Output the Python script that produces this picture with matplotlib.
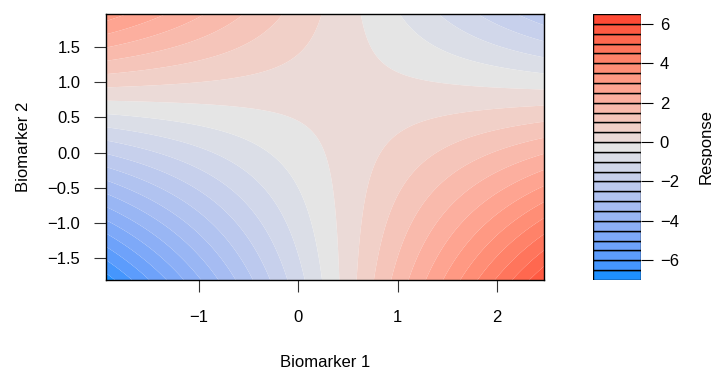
import matplotlib
matplotlib.use("Agg")
import matplotlib.pyplot as plt
import numpy as np

plt.rcParams['font.family'] = ['Liberation Sans', 'DejaVu Sans']
plt.rcParams['axes.unicode_minus'] = True

# biomarker ranges covered by the fitted surface
biomarker1_range = [-1.93, 2.47]
biomarker2_range = [-1.81, 1.97]

# interaction surface: response = value - twist*(x1 - x1_c)*(x2 - x2_c)
saddle_value = 0.19
saddle_x1 = 0.48
saddle_x2 = 0.81
twist = 1.1

levels = np.arange(-7.0, 7.0, 0.5)
x_ticks = [-1, 0, 1, 2]
y_ticks = [-1.5, -1.0, -0.5, 0.0, 0.5, 1.0, 1.5]
cbar_ticks = [-6, -4, -2, 0, 2, 4, 6]

# palette anchors: low, zero, high
anchor_colors = ["#1E90FF", "#E5E5E5", "#FF4A35"]


def hex2rgb(h):
    h = h.lstrip("#")
    return np.array([int(h[i:i + 2], 16) for i in (0, 2, 4)]) / 255.0


M_XYZ = np.array([[0.4124, 0.3576, 0.1805],
                  [0.2126, 0.7152, 0.0722],
                  [0.0193, 0.1192, 0.9505]])
WHITE = np.array([0.95047, 1.0, 1.08883])


def rgb2lab(rgb):
    lin = np.where(rgb <= 0.04045, rgb / 12.92, ((rgb + 0.055) / 1.055) ** 2.4)
    xyz = M_XYZ @ lin / WHITE
    f = np.where(xyz > 0.008856, np.cbrt(xyz), 7.787 * xyz + 16 / 116)
    return np.array([116 * f[1] - 16, 500 * (f[0] - f[1]), 200 * (f[1] - f[2])])


def lab2rgb(lab):
    fy = (lab[0] + 16) / 116
    f = np.array([fy + lab[1] / 500, fy, fy - lab[2] / 200])
    xyz = np.where(f ** 3 > 0.008856, f ** 3, (f - 16 / 116) / 7.787) * WHITE
    lin = np.linalg.solve(M_XYZ, xyz)
    lin = np.clip(lin, 0, 1)
    rgb = np.where(lin <= 0.0031308, 12.92 * lin,
                   1.055 * lin ** (1 / 2.4) - 0.055)
    return np.clip(rgb, 0, 1)


def ramp_lab(colors, n):
    labs = [rgb2lab(hex2rgb(c)) for c in colors]
    pos = np.linspace(0, 1, len(labs))
    out = []
    for t in np.linspace(0, 1, n):
        k = min(np.searchsorted(pos, t, side="right") - 1, len(labs) - 2)
        w = (t - pos[k]) / (pos[k + 1] - pos[k])
        out.append(lab2rgb((1 - w) * labs[k] + w * labs[k + 1]))
    return out


x1 = np.linspace(biomarker1_range[0], biomarker1_range[1], 200)
x2 = np.linspace(biomarker2_range[0], biomarker2_range[1], 200)
X1, X2 = np.meshgrid(x1, x2)
Z = saddle_value - twist * (X1 - saddle_x1) * (X2 - saddle_x2)

n_bands = len(levels) - 1
band_colors = ramp_lab(anchor_colors, n_bands)

fig = plt.figure(figsize=(7.12, 3.76), dpi=100)
ax = fig.add_axes([106 / 712, 96 / 376, 438 / 712, 266 / 376])
cax = fig.add_axes([593 / 712, 96 / 376, 48 / 712, 266 / 376])

ax.contourf(X1, X2, Z, levels=levels, colors=band_colors, antialiased=True)
ax.set_xlim(biomarker1_range)
ax.set_ylim(biomarker2_range)
ax.set_xticks(x_ticks)
ax.set_xticklabels([str(t).replace("-", "\u2212") for t in x_ticks])
ax.set_yticks(y_ticks)
ax.set_yticklabels([("%.1f" % t).replace("-", "\u2212") for t in y_ticks])
ax.tick_params(direction="out", length=8.5, width=0.8, labelsize=12,
               color="#333333")
ax.tick_params(axis="x", pad=13)
ax.tick_params(axis="y", pad=10)
for sp in ax.spines.values():
    sp.set_linewidth(1.0)
    sp.set_color("black")
ax.set_xlabel("Biomarker 1", fontsize=12, labelpad=22)
ax.set_ylabel("Biomarker 2", fontsize=12, labelpad=12)

# colour key: one outlined box per contour band
for lo, hi, c in zip(levels[:-1], levels[1:], band_colors):
    cax.bar(0.5, hi - lo, bottom=lo, width=1.0, color=c,
            edgecolor="black", linewidth=1.0)
cax.set_xlim(0, 1)
cax.set_ylim(levels[0], levels[-1])
cax.set_xticks([])
cax.yaxis.tick_right()
cax.yaxis.set_label_position("right")
cax.set_yticks(cbar_ticks)
cax.set_yticklabels([str(t).replace("-", "\u2212") for t in cbar_ticks])
cax.tick_params(axis="y", direction="out", length=8.5, width=0.8,
                labelsize=12, pad=5)
for sp in cax.spines.values():
    sp.set_visible(False)
cax.set_ylabel("Response", fontsize=12, labelpad=14)

fig.savefig("out.png", dpi=100)
